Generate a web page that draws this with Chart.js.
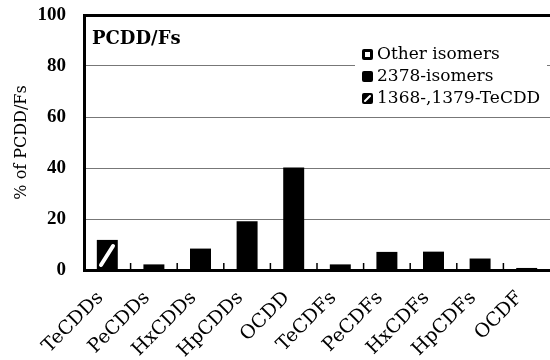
<!DOCTYPE html>
<html>
<head>
<meta charset="utf-8">
<script src="https://cdn.jsdelivr.net/npm/chart.js@4"></script>
<style>
  html, body { margin: 0; padding: 0; background: #fff; }
  #wrap { width: 550px; height: 360px; }
</style>
</head>
<body>
<div id="wrap"><canvas id="chart" width="550" height="360"></canvas></div>
<script>
const categories = ["TeCDDs", "PeCDDs", "HxCDDs", "HpCDDs", "OCDD", "TeCDFs", "PeCDFs", "HxCDFs", "HpCDFs", "OCDF"];
const otherIsomers = [0, 0, 0, 0, 0, 0, 0, 0, 0, 0];
const isomers2378 = [0.3, 2.2, 8.4, 19.1, 40.2, 2.2, 7.1, 7.2, 4.5, 0.8];
const teCDD1368 = [11.5, 0, 0, 0, 0, 0, 0, 0, 0, 0];
const yTicks = [0, 20, 40, 60, 80, 100];

const serif = "'DejaVu Serif', serif";
const timesLike = "'Liberation Serif', serif";

// black tile with one white slash, used for the 1368-,1379-TeCDD part
const makeSlash = () => {
  const c = document.createElement("canvas");
  c.width = 21;
  c.height = 30;
  const g = c.getContext("2d");
  g.fillStyle = "#000";
  g.fillRect(0, 0, c.width, c.height);
  g.strokeStyle = "#fff";
  g.lineWidth = 4;
  g.lineCap = "round";
  g.beginPath();
  g.moveTo(4, 25);
  g.lineTo(16, 6);
  g.stroke();
  return g.createPattern(c, "repeat");
};

const slash = makeSlash();

// keep the slash lined up with the bar it sits in
const slashAlign = {
  id: "slashAlign",
  beforeDatasetsDraw(chart) {
    const meta = chart.getDatasetMeta(2);
    const bar = meta.data.find((b, i) => teCDD1368[i] > 0);
    if (bar && slash.setTransform) {
      const m = new DOMMatrix();
      slash.setTransform(m.translate(Math.round(bar.x - bar.width / 2), Math.round(bar.y)));
    }
  },
};

// small ticks pointing up from the x axis, between categories
const innerTicks = {
  id: "innerTicks",
  afterDatasetsDraw(chart) {
    const { ctx, scales } = chart;
    const x = scales.x;
    const y0 = scales.y.getPixelForValue(0);
    ctx.save();
    ctx.strokeStyle = "#000";
    ctx.lineWidth = 1.5;
    for (let i = 1; i < categories.length; i++) {
      const px = (x.getPixelForValue(i - 1) + x.getPixelForValue(i)) / 2;
      ctx.beginPath();
      ctx.moveTo(px, y0);
      ctx.lineTo(px, y0 - 7);
      ctx.stroke();
    }
    ctx.restore();
  },
};

const drawSymbol = (ctx, kind, x, y, s) => {
  ctx.save();
  ctx.fillStyle = "#000";
  ctx.beginPath();
  ctx.roundRect(x, y, s, s, 2);
  ctx.fill();
  if (kind === 0) {
    ctx.fillStyle = "#fff";
    ctx.fillRect(x + 3, y + 3, s - 6, s - 6);
  } else if (kind === 2) {
    ctx.strokeStyle = "#fff";
    ctx.lineWidth = 2;
    ctx.lineCap = "round";
    ctx.beginPath();
    ctx.moveTo(x + 3, y + s - 3);
    ctx.lineTo(x + s - 3, y + 3);
    ctx.stroke();
  }
  ctx.restore();
};

// title and legend sit inside the plot area
const insideLegend = {
  id: "insideLegend",
  afterDraw(chart) {
    const { ctx, chartArea } = chart;
    ctx.save();
    ctx.fillStyle = "#000";
    ctx.textBaseline = "middle";
    ctx.font = "bold 18px " + serif;
    ctx.fillText("PCDD/Fs", chartArea.left + 8, chartArea.top + 24);

    const lx = chartArea.right - 188;
    const top = chartArea.top + 28;
    ctx.fillStyle = "#fff";
    ctx.fillRect(lx - 7, top, 192, 68);
    ctx.font = "17px " + serif;
    chart.data.datasets.forEach((ds, i) => {
      const cy = top + 12 + i * 22;
      drawSymbol(ctx, i, lx, cy - 6, 11);
      ctx.fillStyle = "#000";
      ctx.fillText(ds.label, lx + 15, cy);
    });
    ctx.restore();
  },
};

new Chart(document.getElementById("chart"), {
  type: "bar",
  data: {
    labels: categories,
    datasets: [
      {
        label: "Other isomers",
        data: otherIsomers,
        backgroundColor: "#fff",
        borderColor: "#000",
        borderWidth: 0,
      },
      {
        label: "2378-isomers",
        data: isomers2378,
        backgroundColor: "#000",
        borderWidth: 0,
      },
      {
        label: "1368-,1379-TeCDD",
        data: teCDD1368,
        backgroundColor: slash,
        borderWidth: 0,
      },
    ],
  },
  options: {
    responsive: false,
    animation: false,
    layout: { padding: { top: 15, right: 0, left: 0, bottom: 0 } },
    datasets: { bar: { categoryPercentage: 1, barPercentage: 0.45 } },
    plugins: {
      legend: { display: false },
      tooltip: { enabled: false },
    },
    scales: {
      x: {
        stacked: true,
        grid: { display: false },
        border: { color: "#000", width: 3 },
        afterFit: (scale) => {
          scale.height = 90;
          scale.paddingLeft = 0;
          scale.paddingRight = 0;
        },
        ticks: {
          color: "#000",
          maxRotation: 45,
          minRotation: 45,
          padding: 9,
          labelOffset: -7,
          font: { family: serif, size: 19 },
        },
      },
      y: {
        stacked: true,
        min: 0,
        max: 100,
        afterFit: (scale) => {
          scale.width = 84;
          scale.paddingTop = 0;
          scale.paddingBottom = 0;
        },
        afterBuildTicks: (scale) => { scale.ticks = yTicks.map((v) => ({ value: v })); },
        border: { color: "#000", width: 3 },
        grid: {
          drawTicks: false,
          color: (c) => (c.tick && c.tick.value === 100 ? "#000" : "#777"),
          lineWidth: (c) => (c.tick && c.tick.value === 100 ? 3 : 1),
        },
        ticks: {
          color: "#000",
          padding: 18,
          font: { family: timesLike, size: 19, weight: "bold" },
        },
        title: {
          display: true,
          text: "% of PCDD/Fs",
          color: "#000",
          padding: { top: 12, bottom: 0 },
          font: { family: serif, size: 16 },
        },
      },
    },
  },
  plugins: [slashAlign, innerTicks, insideLegend],
});
</script>
</body>
</html>
